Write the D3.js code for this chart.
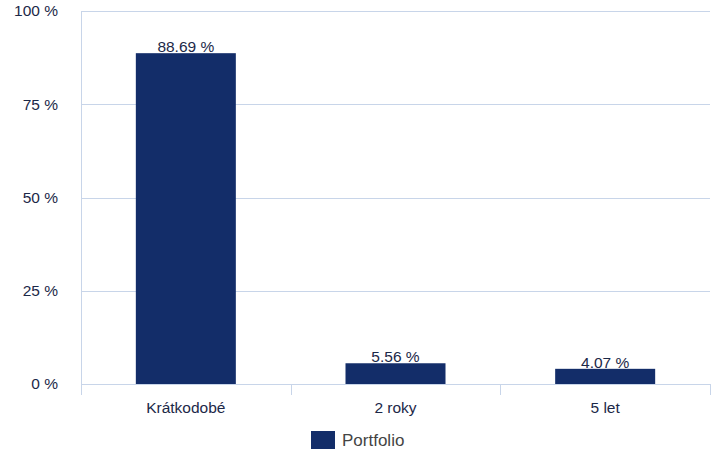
<!DOCTYPE html>
<html><head><meta charset="utf-8">
<script src="https://cdn.jsdelivr.net/npm/d3@7"></script>
<style>body{margin:0;background:#fff;} svg{display:block;} text{font-family:"Liberation Sans",Arial,sans-serif;}</style>
</head><body>
<div id="chart"></div>
<script>
const categories = ["Krátkodobé", "2 roky", "5 let"];
const seriesName = "Portfolio";
const values = [88.69, 5.56, 4.07];
const yTicks = [0, 25, 50, 75, 100];

const W = 722, H = 453;
const m = {left: 81, right: 12, top: 11, bottom: 69};
const iw = W - m.left - m.right, ih = H - m.top - m.bottom;
const barColor = "#132d69", gridColor = "#c8d5e9", textColor = "#1c2848";
const fs = 15.5;

const svg = d3.select("#chart").append("svg").attr("width", W).attr("height", H);
const g = svg.append("g").attr("transform", `translate(${m.left},${m.top})`);

const x = d3.scaleBand().domain(categories).range([0, iw]).paddingInner(0).paddingOuter(0);
const y = d3.scaleLinear().domain([0, 100]).range([ih, 0]);

// gridlines
g.selectAll(".grid").data(yTicks).join("line")
  .attr("x1", 0).attr("x2", iw)
  .attr("y1", d => Math.round(y(d)) + 0.5).attr("y2", d => Math.round(y(d)) + 0.5)
  .attr("stroke", gridColor).attr("stroke-width", 1);

// y labels
g.selectAll(".ylab").data(yTicks).join("text")
  .attr("x", -23).attr("y", d => y(d)).attr("dy", "0.35em")
  .attr("text-anchor", "end").attr("font-size", fs).attr("fill", textColor)
  .text(d => d + " %");

// left axis line
g.append("line").attr("x1", 0.5).attr("x2", 0.5).attr("y1", 0).attr("y2", ih + 11)
  .attr("stroke", gridColor);

// category ticks
const tickPos = categories.map(c => x(c)).concat([iw]);
g.selectAll(".xtick").data(tickPos).join("line")
  .attr("x1", d => Math.round(d) + 0.5).attr("x2", d => Math.round(d) + 0.5)
  .attr("y1", ih).attr("y2", ih + 11)
  .attr("stroke", gridColor);

// bars
const bw = 100;
g.selectAll(".bar").data(values).join("rect")
  .attr("x", (d, i) => x(categories[i]) + x.bandwidth() / 2 - bw / 2)
  .attr("y", d => y(d)).attr("width", bw).attr("height", d => y(0) - y(d))
  .attr("fill", barColor);

// value labels
g.selectAll(".vlab").data(values).join("text")
  .attr("x", (d, i) => x(categories[i]) + x.bandwidth() / 2)
  .attr("y", d => y(d) - 1)
  .attr("text-anchor", "middle").attr("font-size", fs).attr("fill", textColor)
  .text(d => d.toFixed(2) + " %");

// x labels
g.selectAll(".xlab").data(categories).join("text")
  .attr("x", d => x(d) + x.bandwidth() / 2).attr("y", ih + 24).attr("dy", "0.35em")
  .attr("text-anchor", "middle").attr("font-size", fs).attr("fill", textColor)
  .text(d => d);

// legend
const lg = svg.append("g").attr("transform", "translate(311,431)");
lg.append("rect").attr("width", 24).attr("height", 18).attr("fill", barColor);
lg.append("text").attr("x", 31).attr("y", 15)
  .attr("font-size", 17).attr("fill", "#444").text(seriesName);
</script>
</body></html>
